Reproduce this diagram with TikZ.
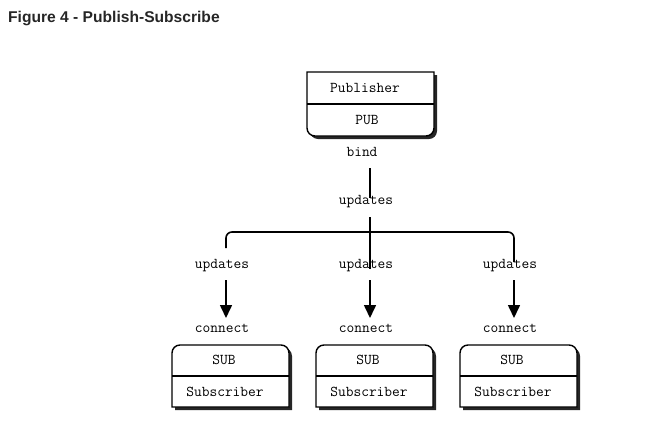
\documentclass[tikz,border=0pt]{standalone}
\usepackage{fontspec}
\setmainfont{Liberation Sans}
\usetikzlibrary{calc}
\usetikzlibrary{arrows.meta}
\tikzset{wire/.style={line width=1.6pt}}
\tikzset{push arrow/.style={wire, -{Triangle[length=13pt, width=12pt]}}}
\tikzstyle{ascii} = [font=\ttfamily\fontsize{15}{17}\selectfont, inner sep=0pt, text height=8pt, text depth=2pt]
\tikzstyle{boxline} = [draw, line width=1.4pt, fill=white]
\tikzstyle{shade} = [fill=black!85]

\begin{document}
\begin{tikzpicture}[x=1pt, y=-1pt]
  \useasboundingbox (0,0) rectangle (654,432);
  \node [anchor=west, inner sep=0pt, text=black!85, font=\bfseries\fontsize{15.6}{17}\selectfont] (title) at (8,18) {Figure 4 - Publish-Subscribe};

  % publisher box with its shadow
  \foreach \s/\st in {3/shade, 0/boxline}
    \path [\st, shift={(\s,\s)}] (370,72) -- (307,72) -- (307,104) [rounded corners=8pt] -- (307,136) -- (434,136) -- (434,104) [sharp corners] -- (434,72) -- cycle;
  \draw [line width=1.4pt] (307,104) -- (434,104);
  \node [ascii] (pubname) at (365,89) {Publisher};
  \node [ascii] (pubport) at (367,121) {PUB};

  % subscriber boxes
  \foreach \x in {0, 144, 288} {
    \foreach \s/\st in {3/shade, 0/boxline}
      \path [\st, shift={(\x+\s,\s)}] (230,407) -- (172,407) -- (172,376) [rounded corners=8pt] -- (172,345) -- (289,345) -- (289,376) [sharp corners] -- (289,407) -- cycle;
    \draw [line width=1.4pt, shift={(\x,0)}] (172,376) -- (289,376);
  }

  \node [ascii] (bind) at (362,153) {bind};
  \node [ascii] (upd) at (366,201) {updates};
  \coordinate (hub) at (370,232);

  \foreach \x/\n/\b in {222/l/0, 366/c/144, 510/r/288} {
    \node [ascii] (upd\n) at (\x,265) {updates};
    \node [ascii] (con\n) at (\x,329) {connect};
    \node [ascii] (sub\n) at (224+\b,361) {SUB};
    \node [ascii] (subname\n) at (225+\b,393) {Subscriber};
    \draw [push arrow] ($(upd\n.center)+(4,15)$) -- ($(con\n.center)+(4,-11)$);
  }

  \draw [wire] ($(bind.south -| hub)+(0,10)$) -- ($(upd.center -| hub)+(0,-3)$);
  \draw [wire] ($(upd.center -| hub)+(0,16)$) -- ($(updc.center -| hub)+(0,4)$);
  \draw [wire, rounded corners=6pt] ($(updl.center)+(4,-17)$) |- (hub) -| ($(updr.center)+(4,-3)$);
\end{tikzpicture}
\end{document}
